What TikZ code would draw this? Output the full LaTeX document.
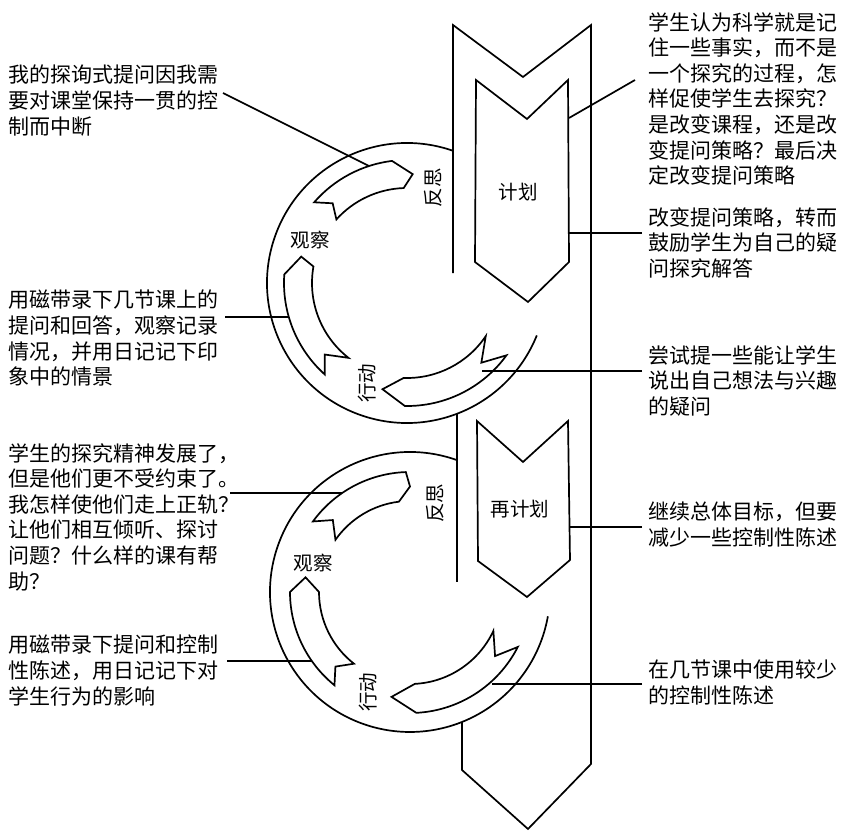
\documentclass[tikz,border=0pt]{standalone}
\usepackage{fontspec}
\newfontfamily\cjk{Noto Sans CJK SC}
\usetikzlibrary{calc}
% ring arrow: #1 centre, #2 outer r, #3 inner r, #4 tail(out), #5 head(out), #6 tip, #7 head(in), #8 tail(in), #9 notch
\newcommand{\ringarrow}[9]{%
  \draw[shape line] ($(#1)+(#4:#2)$) arc[start angle=#4, end angle=#5, radius=#2]
    -- ($(#1)+(#6:{(#2+#3)/2})$) -- ($(#1)+(#7:#3)$)
    arc[start angle=#7, end angle=#8, radius=#3]
    -- ($(#1)+(#9:{(#2+#3)/2})$) -- cycle;}
\begin{document}
\begin{tikzpicture}[x=1pt,y=1pt,
  shape line/.style={line width=1.7pt, line join=miter},
  conn/.style={line width=1.7pt},
  body/.style={font=\cjk\fontsize{21}{25.6}\selectfont, align=left, anchor=north west, inner sep=0pt},
  lab/.style={font=\cjk\fontsize{19.5}{19.5}\selectfont, inner sep=0pt}]
\fill[white] (0,0) rectangle (844,-832);
\useasboundingbox (0,0) rectangle (844,-832);

\coordinate (C1) at (407,-283);
\coordinate (C2) at (410,-592);

% big outer chevron arrow
\draw[shape line] (453,-273) -- (453,-25) -- (523,-77) -- (591,-25) -- (591,-764) -- (528,-829) -- (462,-770) -- (462,-722);
\draw[shape line] (457,-414) -- (457,-582);

% inner chevrons
\draw[shape line] (476,-80) -- (527,-119) -- (568,-80) -- (569,-262) -- (528,-302) -- (475,-262) -- cycle;
\draw[shape line] (477,-421) -- (523,-462) -- (568,-421) -- (570,-560) -- (527,-597) -- (478,-561) -- cycle;

% circles
\draw[shape line] ($(C1)+(70.8:140)$) arc[start angle=70.8, end angle=338, radius=140];
\draw[shape line] ($(C2)+(70.4:140)$) arc[start angle=70.4, end angle=350, radius=140];

% ring arrows, cycle 1
\ringarrow{C1}{123}{95}{139}{97}{87}{92}{138}{133}
\ringarrow{C1}{123}{95}{228}{176}{166}{170}{232}{221}
\ringarrow{C1}{123}{95}{324}{269}{257}{268}{326}{313}
% ring arrows, cycle 2
\ringarrow{C2}{120}{91}{144}{92}{90}{97}{145}{137}
\ringarrow{C2}{120}{91}{231}{180}{172}{180}{232}{225}
\ringarrow{C2}{121}{92}{333}{273}{260}{273}{335}{323}

% labels
\node[lab, rotate=90] (fs1) at (433,-188) {反思};
\node[lab] (gc1) at (310,-240) {观察};
\node[lab, rotate=90] (xd1) at (367,-383) {行动};
\node[lab] (jh1) at (518,-192) {计划};
\node[lab, rotate=90] (fs2) at (435,-503) {反思};
\node[lab] (gc2) at (313,-563) {观察};
\node[lab, rotate=90] (xd2) at (368,-692) {行动};
\node[lab] (jh2) at (520,-509) {再计划};

% texts
\node[body] (t1) at (8,-65) {我的探询式提问因我需\\要对课堂保持一贯的控\\制而中断};
\node[body] (t2) at (8,-290) {用磁带录下几节课上的\\提问和回答，观察记录\\情况，并用日记记下印\\象中的情景};
\node[body] (t3) at (8,-443) {学生的探究精神发展了，\\但是他们更不受约束了。\\我怎样使他们走上正轨？\\让他们相互倾听、探讨\\问题？什么样的课有帮\\助？};
\node[body] (t4) at (8,-635) {用磁带录下提问和控制\\性陈述，用日记记下对\\学生行为的影响};
\node[body] (r1) at (648,-12) {学生认为科学就是记\\住一些事实，而不是\\一个探究的过程，怎\\样促使学生去探究？\\是改变课程，还是改\\变提问策略？最后决\\定改变提问策略};
\node[body] (r2) at (648,-207) {改变提问策略，转而\\鼓励学生为自己的疑\\问探究解答};
\node[body] (r3) at (648,-345) {尝试提一些能让学生\\说出自己想法与兴趣\\的疑问};
\node[body] (r4) at (648,-502) {继续总体目标，但要\\减少一些控制性陈述};
\node[body] (r5) at (648,-660) {在几节课中使用较少\\的控制性陈述};

% connector end points
\coordinate (e1) at ($(C1)+(108:123)$);
\coordinate (e2) at ($(C1)+(196:123)$);
\coordinate (e3) at ($(C2)+(124.5:120)$);
\coordinate (e4) at ($(C2)+(215:120)$);
\coordinate (f1) at (569,-118);
\coordinate (f2) at (569,-233);
\coordinate (f3) at (482,-371);
\coordinate (f4) at (570,-527);
\coordinate (f5) at ($(C2)+(311.5:123)$);

% connectors
\draw[conn] ([shift={(215,-28)}]t1.north west) -- (e1);
\draw[conn] ([xshift=7pt]t2.east |- e2) -- (e2);
\draw[conn] ([xshift=-9pt]t3.east |- e3) -- (e3);
\draw[conn] ([xshift=9pt]t4.east |- e4) -- (e4);
\draw[conn] ([shift={(-13,-68)}]r1.north west) -- (f1);
\draw[conn] ([xshift=-6pt]r2.west |- f2) -- (f2);
\draw[conn] ([xshift=-6pt]r3.west |- f3) -- (f3);
\draw[conn] ([xshift=-6pt]r4.west |- f4) -- (f4);
\draw[conn] ([xshift=-6pt]r5.west |- f5) -- (f5);
\end{tikzpicture}
\end{document}
